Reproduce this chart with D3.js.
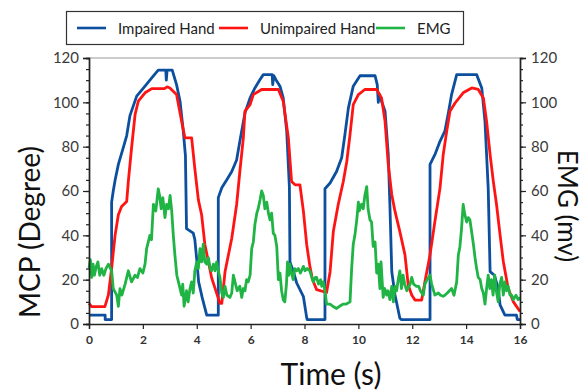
<!DOCTYPE html>
<html>
<head>
<meta charset="utf-8">
<script src="https://cdn.jsdelivr.net/npm/d3@7"></script>
<style>
  html, body { margin: 0; padding: 0; background: #fff; }
  svg { display: block; }
</style>
</head>
<body>
<div id="chart"></div>
<script>
// ---- data ----
const timeTicks = [0, 2, 4, 6, 8, 10, 12, 14, 16];
const valueTicks = [0, 20, 40, 60, 80, 100, 120];
const seriesNames = ["Impaired Hand", "Unimpaired Hand", "EMG"];
const seriesColors = ["#0c4f9e", "#ff1414", "#1fb444"];

// [time (s), MCP angle (deg)]
const impairedHand = [
  [0,4],[0.6,4],[0.6,2],[0.84,2],[0.84,55],[0.9,60],[0.97,65],[1.09,72],[1.27,79.5],[1.4,85],
  [1.52,94],[1.77,102.8],[2.08,107.3],[2.33,111],[2.57,114.5],[2.85,114.5],[2.87,110],[2.9,114.5],
  [3.09,114.5],[3.25,108],[3.38,100.5],[3.5,87],[3.58,76],[3.62,43],[3.87,41],[3.93,38],[4.0,29],
  [4.07,19],[4.2,12],[4.37,4],[4.8,4],[4.8,57],[4.93,61.5],[5.11,65],[5.3,68.8],[5.48,74],
  [5.6,82.4],[5.79,95.2],[5.98,102],[6.16,106.5],[6.35,110.3],[6.47,112.5],[6.8,112.5],[6.82,108],
  [6.86,112],[6.95,110],[7.09,107.3],[7.21,102],[7.34,87],[7.44,61.5],[7.46,28],[7.59,23.6],
  [7.71,18.5],[7.96,12.3],[8.08,3],[8.1,2],[8.76,2],[8.76,61],[8.95,63.6],[9.19,68.8],[9.38,75],
  [9.5,85.4],[9.63,97.5],[9.81,107.3],[10.06,112],[10.62,112],[10.7,108],[10.74,100],[10.76,104],
  [10.99,96],[11.11,76.4],[11.17,53.8],[11.24,23.6],[11.36,13.1],[11.54,2.6],[11.6,2],[12.66,2],
  [12.66,72],[12.84,76.4],[13.03,82.4],[13.21,87],[13.34,95.2],[13.46,103.5],[13.65,112.5],
  [14.39,112.5],[14.58,106.5],[14.7,91.4],[14.82,61.3],[14.89,23.6],[15.05,22],[15.19,16],
  [15.26,8.6],[15.44,4],[15.87,4],[15.9,2],[16,2]
];

// [time (s), MCP angle (deg)]
const unimpairedHand = [
  [0,9.3],[0.1,7.8],[0.59,7.8],[0.72,13.1],[0.84,25.2],[0.97,40.2],[1.09,49.3],[1.21,53],
  [1.4,55.3],[1.46,64.3],[1.58,79.4],[1.71,94.5],[1.83,100.5],[2.08,104.3],[2.33,106.2],
  [2.8,106.2],[2.9,107],[3.0,106.5],[3.25,103.5],[3.44,91.4],[3.56,84],[3.81,84],[3.93,70],
  [4.06,56],[4.18,49.3],[4.3,36],[4.43,28.2],[4.55,21],[4.68,16.1],[4.86,9.3],[4.93,9.3],
  [5.05,23.6],[5.3,38.7],[5.48,53.8],[5.6,68.8],[5.73,84],[5.79,96],[5.98,99],[6.1,103.5],
  [6.41,105.8],[7.03,105.8],[7.21,100.5],[7.4,84],[7.52,64.3],[7.65,62.8],[7.83,62.8],
  [7.96,50.8],[8.08,36],[8.2,26],[8.3,20],[8.45,15.5],[8.82,14.2],[8.95,23.6],[9.07,41.7],
  [9.25,53.8],[9.44,64.3],[9.57,73.3],[9.69,85.4],[9.81,99],[10.0,103.5],[10.24,105.8],
  [10.68,105.8],[10.86,102],[10.99,91.4],[11.11,71.9],[11.24,58.3],[11.36,50.8],[11.54,41.7],
  [11.73,31.2],[11.85,17.6],[11.98,13.1],[12.1,10.8],[12.35,10.8],[12.47,19.1],[12.66,31.2],
  [12.84,46.2],[13.03,61.3],[13.15,76.4],[13.28,87],[13.4,96],[13.59,99.7],[13.89,104.3],
  [14.21,106.5],[14.45,105.8],[14.64,102],[14.76,91.4],[14.89,76.4],[15.01,64.3],[15.13,53.8],
  [15.26,40.2],[15.38,28.2],[15.56,16.1],[15.75,10.1],[16,5.6]
];

// [time (s), EMG (mv)]
const emg = [
  [0,25],[0.05,29],[0.1,21],[0.15,27],[0.2,22],[0.27,26],[0.33,28],[0.4,22],[0.47,25],[0.55,22],
  [0.63,25],[0.72,27],[0.84,24],[0.9,16],[1.03,13],[1.09,8],[1.15,16],[1.22,13],[1.34,18],
  [1.46,24],[1.58,19],[1.71,22],[1.8,21],[1.89,25],[2.0,23],[2.08,27],[2.14,34],[2.26,40],
  [2.32,38],[2.39,54],[2.48,51],[2.57,61],[2.62,58],[2.68,52],[2.74,57],[2.82,48],[2.88,54],
  [2.95,52],[3.01,58],[3.07,51],[3.13,40],[3.19,31],[3.26,22],[3.32,19],[3.44,13],[3.48,18],
  [3.53,8],[3.62,15],[3.68,10],[3.75,16],[3.81,19],[3.87,14],[3.93,24],[4.0,28],[4.06,25],
  [4.12,34],[4.18,28],[4.24,36],[4.3,28],[4.37,27],[4.43,30],[4.5,25],[4.55,24],[4.62,27],
  [4.68,24],[4.74,28],[4.8,24],[4.86,21],[4.93,14],[4.99,12],[5.05,17],[5.12,13],[5.23,12],
  [5.3,14],[5.36,22],[5.42,19],[5.5,15],[5.6,17],[5.67,12],[5.73,16],[5.79,15],[5.85,20],
  [5.91,19],[5.98,22],[6.04,34],[6.1,37],[6.16,45],[6.23,50],[6.28,52],[6.35,56],[6.41,60],
  [6.47,58],[6.53,52],[6.6,55],[6.66,50],[6.72,47],[6.78,50],[6.84,41],[6.9,40],[6.97,35],
  [7.03,20],[7.09,23],[7.15,15],[7.21,11],[7.27,10],[7.33,18],[7.37,28],[7.42,22],[7.46,27],
  [7.52,23],[7.58,20],[7.64,25],[7.71,24],[7.77,25],[7.85,23],[7.96,26],[8.02,24],[8.1,25],
  [8.2,24],[8.27,21],[8.33,19],[8.4,21],[8.45,21],[8.52,18],[8.6,20],[8.64,17],[8.7,19],
  [8.76,15],[8.82,9],[8.89,9],[8.95,9],[9.05,8],[9.19,7],[9.3,8],[9.44,9],[9.55,9],[9.69,10],
  [9.75,25],[9.81,36],[9.87,40],[9.94,47],[10.0,55],[10.03,51],[10.06,52],[10.12,54],[10.18,52],
  [10.24,58],[10.31,62],[10.36,52],[10.43,47],[10.49,46],[10.55,35],[10.62,37],[10.68,23],
  [10.74,27],[10.8,16],[10.84,28],[10.88,20],[10.92,12],[10.98,16],[11.05,13],[11.1,15],
  [11.17,11],[11.24,17],[11.3,10],[11.36,17],[11.42,15],[11.48,20],[11.54,24],[11.6,16],
  [11.66,22],[11.72,18],[11.8,15],[11.92,18],[11.98,21],[12.05,18],[12.16,17],[12.24,17],
  [12.3,15],[12.41,13],[12.47,18],[12.55,20],[12.6,21],[12.66,22],[12.72,18],[12.84,13],
  [12.97,14],[13.05,13],[13.15,12.5],[13.21,13],[13.3,14],[13.38,15],[13.46,16],[13.55,13],
  [13.65,19],[13.71,31],[13.77,35],[13.83,43],[13.89,54],[13.94,50],[14.02,46],[14.08,48],
  [14.14,47],[14.2,42],[14.27,36],[14.33,30],[14.39,25],[14.45,21],[14.52,20],[14.58,16],
  [14.64,14],[14.7,9],[14.76,16],[14.82,22],[14.88,16],[14.94,20],[15.0,13],[15.06,22],
  [15.12,15],[15.19,10],[15.25,18],[15.32,21],[15.38,13],[15.44,19],[15.5,15],[15.56,17],
  [15.63,13],[15.69,13],[15.75,11],[15.85,13],[15.93,11],[16,12]
];

// ---- layout ----
const W = 585, H = 390;
const plot = {left: 89, right: 520, top: 58, bottom: 324};
const FONT = "Lato, 'Open Sans', sans-serif";

const svg = d3.select("#chart").append("svg")
  .attr("width", W)
  .attr("height", H);

const x = d3.scaleLinear().domain([0, 16]).range([plot.left, plot.right]);
const yL = d3.scaleLinear().domain([0, 120]).range([plot.bottom, plot.top]);
const yR = d3.scaleLinear().domain([0, 120]).range([plot.bottom, plot.top]);

// top frame line
svg.append("line")
  .attr("x1", plot.left).attr("x2", plot.right)
  .attr("y1", plot.top).attr("y2", plot.top)
  .attr("stroke", "#9a9a9a")
  .attr("stroke-width", 1.2);

// ---- series ----
const line = (ys) => d3.line().x(d => x(d[0])).y(d => ys(d[1]));

svg.append("path").datum(impairedHand)
  .attr("fill", "none").attr("stroke", seriesColors[0])
  .attr("stroke-width", 2.8).attr("stroke-linejoin", "round")
  .attr("d", line(yL));

svg.append("path").datum(unimpairedHand)
  .attr("fill", "none").attr("stroke", seriesColors[1])
  .attr("stroke-width", 2.8).attr("stroke-linejoin", "round")
  .attr("d", line(yL));

svg.append("path").datum(emg)
  .attr("fill", "none").attr("stroke", seriesColors[2])
  .attr("stroke-width", 2.8).attr("stroke-linejoin", "round")
  .attr("d", line(yR));

// ---- axes ----
function styleAxis(g) {
  g.select(".domain").attr("stroke", "#222").attr("stroke-width", 1.4);
  g.selectAll(".tick line").attr("stroke", "#222").attr("stroke-width", 1.2);
}

// left minor + major
svg.append("g")
  .attr("transform", `translate(${plot.left},0)`)
  .call(d3.axisLeft(yL).tickValues(d3.range(0, 121, 5)).tickSize(3).tickFormat(""))
  .call(styleAxis);
svg.append("g")
  .attr("transform", `translate(${plot.left},0)`)
  .call(d3.axisLeft(yL).tickValues(valueTicks).tickSize(6).tickPadding(4))
  .call(styleAxis)
  .call(g => g.selectAll("text")
    .style("font-family", FONT).style("font-size", "15px").attr("fill", "#3a3a3a"));

// right minor + major
svg.append("g")
  .attr("transform", `translate(${plot.right},0)`)
  .call(d3.axisRight(yR).tickValues(d3.range(0, 121, 5)).tickSize(3).tickFormat(""))
  .call(styleAxis);
svg.append("g")
  .attr("transform", `translate(${plot.right},0)`)
  .call(d3.axisRight(yR).tickValues(valueTicks).tickSize(6).tickPadding(5))
  .call(styleAxis)
  .call(g => g.selectAll("text")
    .style("font-family", FONT).style("font-size", "15px").attr("fill", "#3a3a3a"));

// bottom
svg.append("g")
  .attr("transform", `translate(0,${plot.bottom})`)
  .call(d3.axisBottom(x).tickValues(timeTicks).tickSize(5).tickPadding(6))
  .call(styleAxis)
  .call(g => g.selectAll("text")
    .style("font-family", FONT).style("font-size", "12px")
    .style("font-weight", "bold").attr("fill", "#333"));

// ---- axis titles ----
svg.append("text")
  .attr("transform", "translate(40,232) rotate(-90)")
  .attr("text-anchor", "middle")
  .style("font-family", FONT).style("font-size", "28px")
  .attr("fill", "#111")
  .text("MCP (Degree)");

svg.append("text")
  .attr("transform", "translate(558,206) rotate(90)")
  .attr("text-anchor", "middle")
  .style("font-family", FONT).style("font-size", "26px")
  .attr("fill", "#111")
  .text("EMG (mv)");

svg.append("text")
  .attr("x", 331).attr("y", 385)
  .attr("text-anchor", "middle")
  .style("font-family", FONT).style("font-size", "30px")
  .attr("fill", "#111")
  .text("Time (s)");

// ---- legend ----
const legend = svg.append("g");
legend.append("rect")
  .attr("x", 66.5).attr("y", 11.5)
  .attr("width", 397).attr("height", 33)
  .attr("fill", "#fff").attr("stroke", "#333").attr("stroke-width", 1.2);

const legendX = [77, 219, 376];
seriesNames.forEach((name, i) => {
  legend.append("line")
    .attr("x1", legendX[i]).attr("x2", legendX[i] + 29)
    .attr("y1", 28).attr("y2", 28)
    .attr("stroke", seriesColors[i]).attr("stroke-width", 2.6);
  legend.append("text")
    .attr("x", legendX[i] + 41).attr("y", 33.5)
    .style("font-family", FONT).style("font-size", "15px")
    .attr("fill", "#222")
    .text(name);
});
</script>
</body>
</html>
